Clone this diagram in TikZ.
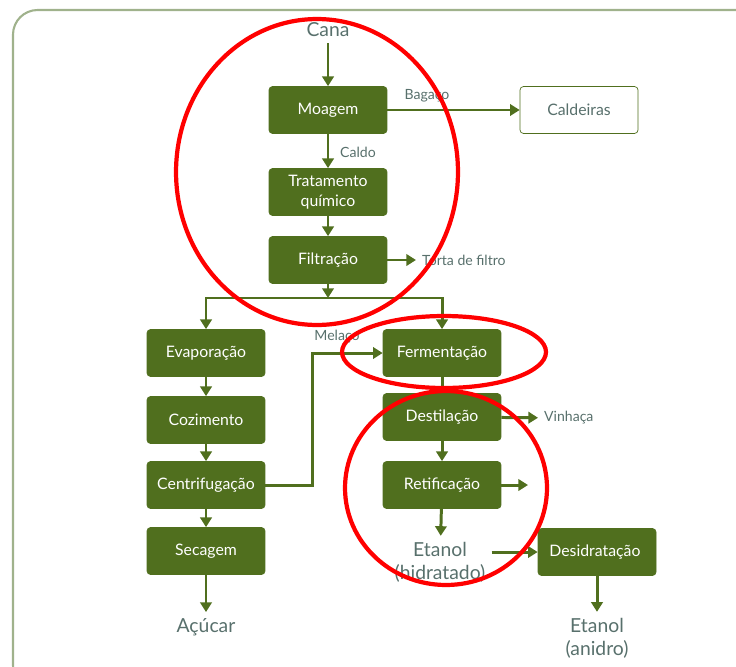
\documentclass[tikz,border=0pt]{standalone}
\usepackage{fontspec}
\setmainfont{Lato}
\usetikzlibrary{arrows.meta}
\definecolor{boxgreen}{RGB}{80,111,30}
\definecolor{labelgray}{RGB}{88,112,108}
\definecolor{framegreen}{RGB}{160,178,140}
\tikzset{
  stage/.style={fill=boxgreen, draw=boxgreen, rounded corners=2pt, minimum width=2.36cm,
    minimum height=0.94cm, text=white, font=\fontsize{9}{11.5}\selectfont, align=center},
  flow/.style={draw=boxgreen, line width=1.7pt, -{Triangle[length=5.5pt,width=6.5pt]}},
  tag/.style={text=labelgray, font=\fontsize{8}{9}\selectfont},
  product/.style={text=labelgray, font=\fontsize{11}{13}\selectfont, align=center},
  highlight/.style={draw=red, line width=2.4pt}
}
\begin{document}
\begin{tikzpicture}[x=0.02cm,y=-0.02cm]
    \useasboundingbox (0,0) rectangle (736,666);
    % frame
    \draw[framegreen, line width=1.2pt, rounded corners=14pt] (13,10) rectangle (760,690);

    % process stages
    \foreach \name/\x/\y/\txt in {
        moag/328/110/Moagem,
        trat/328/192/{Tratamento\\químico},
        filt/328/260/Filtração,
        evap/206/353/Evaporação,
        cozi/206/420/Cozimento,
        centr/206/485/Centrifugação,
        seca/206/551/Secagem,
        ferm/442/353/Fermentação,
        dest/442/417/Destilação,
        retif/442/485/Retificação,
        desid/597/552/Desidratação
    } {
        \node[stage] (\name) at (\x,\y) {\txt};
    }
    \node[stage, fill=white, text=labelgray] (cald) at (579,110) {Caldeiras};

    % inputs and products
    \node[product] (cana) at (328,30) {Cana};
    \node[product] (acuc) at (206,627) {Açúcar};
    \node[product] (etah) at (440,562) {Etanol\\(hidratado)};
    \node[product] (etaa) at (597,638) {Etanol\\(anidro)};

    % by-products
    \node[tag] (bag) at (427,96) {Bagaço};
    \node[tag] (caldo) at (358,152) {Caldo};
    \node[tag, anchor=west] (torta) at (416,260) {Torta de filtro};
    \node[tag, anchor=west] (vinh) at (538,418) {Vinhaça};
    \node[tag] (mela) at (337,337) {Melaço};

    % flows
    \draw[flow] (cana) -- (moag);
    \draw[flow] (moag) -- (cald);
    \draw[flow] (moag) -- (trat);
    \draw[flow] (trat) -- (filt);
    \draw[flow] (filt) -- (torta);
    \coordinate (split) at (328,298);
    \draw[flow] (filt) -- (split);
    \draw[flow] (split) -| (evap);
    \draw[flow] (split) -| (ferm);
    \draw[flow] (evap) -- (cozi);
    \draw[flow] (cozi) -- (centr);
    \draw[flow] (centr) -- (seca);
    \draw[flow] (seca) -- (acuc);
    \draw[flow] (centr.east) -- ++(47,0) |- (ferm);
    \draw[flow, -] (ferm) -- (dest);
    \draw[flow] (dest) -- (vinh);
    \draw[flow] (dest) -- (retif);
    \coordinate (retout) at (528,485);
    \draw[flow] (retif) -- (retout);
    \draw[flow] (retif) -- (etah);
    \draw[flow] (etah.east |- desid.west) -- (desid);
    \draw[flow] (desid) -- (etaa);

    % highlights
    \draw[highlight] (317,172) ellipse [x radius=2.82cm, y radius=3.06cm];
    \draw[highlight] (444,352) ellipse [x radius=2.04cm, y radius=0.72cm];
    \draw[highlight] (446,488) ellipse [x radius=2.02cm, y radius=1.94cm];
\end{tikzpicture}
\end{document}
